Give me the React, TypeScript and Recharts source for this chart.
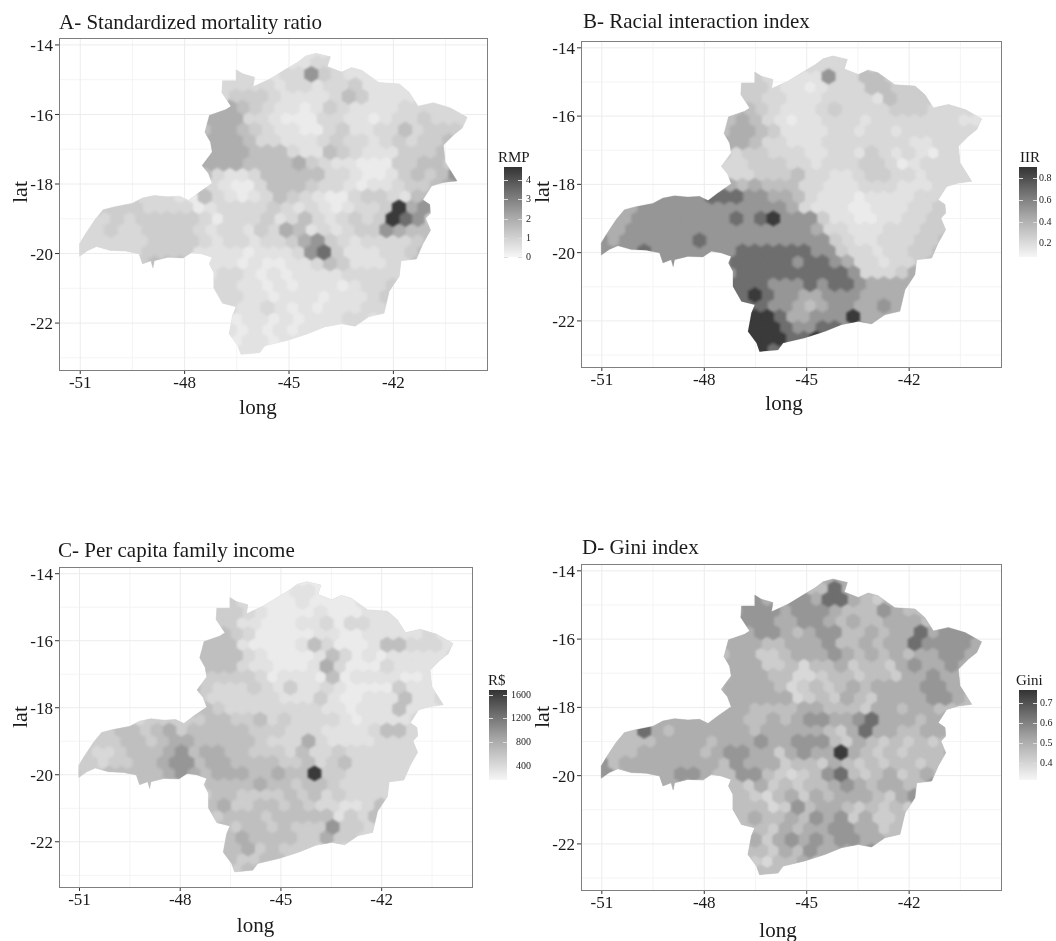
import { CartesianGrid, Scatter, ScatterChart, XAxis, YAxis } from "recharts";

const lonTicks = [-51, -48, -45, -42];
const latTicks = [-22, -20, -18, -16, -14];
const lonMinor = [-49.5, -46.5, -43.5, -40.5];
const latMinor = [-23, -21, -19, -17, -15];
const lonDomain = [-51.61, -39.31];
const latDomain = [-23.35, -13.8];

// state border
const outline = [
  [-51.02, -20.08], [-51.02, -19.72], [-50.87, -19.47], [-50.58, -19.03], [-50.34, -18.74], [-50.04, -18.66],
  [-49.5, -18.55], [-49.21, -18.4], [-48.87, -18.33], [-48.48, -18.37], [-48.14, -18.35], [-47.89, -18.47],
  [-47.6, -18.25], [-47.21, -17.98], [-47.32, -17.69], [-47.5, -17.47], [-47.21, -17.08], [-47.26, -16.79],
  [-47.42, -16.51], [-47.29, -16.02], [-46.82, -15.86], [-46.67, -15.76], [-46.93, -15.37], [-46.91, -15.03],
  [-46.52, -15.03], [-46.52, -14.71], [-46.33, -14.83], [-45.99, -14.93], [-46.03, -15.2], [-45.55, -14.98],
  [-45.06, -14.68], [-44.74, -14.49], [-44.52, -14.32], [-44.23, -14.24], [-43.81, -14.34], [-43.9, -14.62],
  [-43.49, -14.78], [-43.2, -14.65], [-42.91, -14.73], [-42.42, -15.08], [-41.83, -15.12], [-41.54, -15.37],
  [-41.29, -15.76], [-40.85, -15.66], [-40.36, -15.81], [-39.88, -16.08], [-40.02, -16.39], [-40.27, -16.59],
  [-40.56, -16.88], [-40.51, -17.37], [-40.32, -17.67], [-40.17, -17.91], [-40.56, -17.96], [-40.9, -18.06],
  [-41.15, -18.45], [-40.95, -18.59], [-40.93, -18.84], [-41.07, -18.99], [-40.93, -19.33], [-41.15, -19.72],
  [-41.34, -20.16], [-41.78, -20.21], [-41.83, -20.65], [-42.12, -21.09], [-42.27, -21.72], [-42.71, -21.82],
  [-43.1, -22.09], [-43.49, -22.02], [-43.98, -22.11], [-44.47, -22.31], [-45.06, -22.5], [-45.69, -22.65],
  [-45.84, -22.85], [-46.38, -22.9], [-46.47, -22.65], [-46.72, -22.31], [-46.62, -21.77], [-46.52, -21.53],
  [-46.91, -21.43], [-47.16, -20.99], [-47.16, -20.55], [-47.29, -20.3], [-47.21, -20.11], [-47.5, -20.01],
  [-47.79, -19.96], [-48.04, -20.13], [-48.48, -20.11], [-48.87, -20.21], [-48.91, -20.42], [-48.97, -20.21],
  [-49.21, -20.3], [-49.31, -20.01], [-49.7, -19.93], [-50.14, -19.91], [-50.53, -19.8], [-50.78, -19.91],
];

// shade cells: rows of latitude, columns of longitude (odd rows sit half a column east)
const cellLons = [
  -51.2, -50.84, -50.48, -50.12, -49.76, -49.4, -49.04, -48.68, -48.32, -47.96, -47.6, -47.24, -46.88, -46.52, -46.16, -45.8, -45.44,
  -45.08, -44.72, -44.36, -44.0, -43.64, -43.28, -42.92, -42.56, -42.2, -41.84, -41.48, -41.12, -40.76, -40.4, -40.04, -39.68,
];
const cellLats = [
  -14.2, -14.52, -14.84, -15.16, -15.48, -15.8, -16.12, -16.44, -16.76, -17.08, -17.4, -17.72, -18.04, -18.36, -18.68,
  -19.0, -19.32, -19.64, -19.96, -20.28, -20.6, -20.92, -21.24, -21.56, -21.88, -22.2, -22.52, -22.84, -23.16,
];
const rowStarts = [17, 16, 12, 11, 11, 10, 10, 10, 10, 10, 9, 9, 10, 5, 1, 1, 0, 0, 0, 3, 10, 10, 10, 11, 11, 11, 11, 11, 11];

const shadesA = [
  "22222", "2223322", "33332337432222", "3333323323342222", "334443222235422222",
  "5665432212432222333333", "56663321113322123343333", "56654322113422335344433", "66665332223433234344553",
  "66665553225432224445533", "56666555564322111445544", "55322355555332112454573", "4321135554332122344565",
  "3332153212354321134432553", "3444433331233334323212334967", "3343444443133342353234349874",
  "333433444432332436523234476554", "333333444432332334674323333455", "333333444422221222378422233455",
  "33455552221211223542223355", "223321212222333333", "233221212221233433", "23332212221222343",
  "2322321212223333", "321221212223322", "22121212222322", "221221222", "2222122", "2222",
];
const shadesB = [
  "33333", "3333333", "44322227335544", "4443221233355444", "444332223333254444",
  "5554322234333344433333", "55653212233323333333223", "56654222233233233333333", "5665332223333333223333",
  "4344333223324323213323", "33334443323334431233333", "33334445332234433233333", "66565553322233322233333",
  "7777888776653222122223334", "66677777777777763222112223344", "667777777787897774221122334444",
  "666777777777777777633222333444", "767777778777777777743223334455", "777787777777888888774332334455",
  "77777777888887887633233455", "778888888887333466", "788877787887666666", "88898776677766666",
  "8887765677667666", "899986677796666", "89998778877666", "899998898", "8998888", "8888",
];
const shadesC = [
  "11111", "1122111", "44331112111122", "4443211112111222", "444221112231332222",
  "5554311111221122222322", "45552111125311125533322", "55553211112531212222232", "5555322111263111322222",
  "4444431222151222211222", "45433343242232111142222", "44333333222421122252233", "5543333333322122252222",
  "3444445544534333321222233", "44455456455555444333222235533", "44455456655555433363222233333",
  "443345556756655444353343333333", "443445567756655554453453333333", "544555556765666556559443333333",
  "55555544555565545543333333", "445544445453433333", "456445545433223543", "44455545555524353",
  "4545545444744334", "455655554464433", "45564544433333", "455445544", "4445544", "4444",
];
const shadesD = [
  "55665", "5558655", "77667768865455", "6777677765557655", "677766776565566655",
  "5667765677556566867776", "56665566675565668777766", "56644566676565656677666", "5666445355645546766766",
  "5666553345545546676666", "55666653454565666677666", "5666666345465466667765", "5665555665554665665555",
  "6666666556567766786665666", "55586566666656666654686655665", "55556666566676677754654545456",
  "655566666567766467669654545556", "756666666657666455465454554555", "775666677655775434578545645656",
  "56666555546454556765665576", "555435646566654676", "555534756654545465", "55565565767464455",
  "5554656677664556", "566467676776655", "55546576665755", "554355655", "5455455", "4444",
];

const greys = ["#f3f3f3", "#ebebeb", "#e2e2e2", "#d8d8d8", "#cdcdcd", "#bfbfbf", "#aeaeae", "#969696", "#6e6e6e", "#3a3a3a"];
const font = "'Liberation Serif', serif";

function cellsByShade(rows: string[]) {
  const groups: { lon: number; lat: number }[][] = greys.map(() => []);
  rows.forEach((row, r) => {
    row.split("").forEach((ch, i) => {
      const lon = cellLons[rowStarts[r] + i] + (r % 2 ? 0.18 : 0);
      const lat = cellLats[r];
      groups[Number(ch)].push(
        { lon, lat: lat + 0.21 }, { lon: lon + 0.18, lat: lat + 0.105 }, { lon: lon + 0.18, lat: lat - 0.105 },
        { lon, lat: lat - 0.21 }, { lon: lon - 0.18, lat: lat - 0.105 }, { lon: lon - 0.18, lat: lat + 0.105 },
      );
    });
  });
  return groups;
}

function toPath(points: { x: number; y: number }[], size: number) {
  let d = "";
  for (let i = 0; i < points.length; i += size) {
    d += "M" + points.slice(i, i + size).map((p) => `${p.x},${p.y}`).join("L") + "Z";
  }
  return d;
}

const noDot = () => <g />;

interface ColorKey {
  title: string;
  titleLeft: number;
  titleTop: number;
  left: number;
  top: number;
  labels: string[];
  labelTops: number[];
  labelLeft: number;
  labelAlign?: "left" | "right";
}

interface PanelProps {
  id: string;
  title: string;
  titleLeft: number;
  titleTop: number;
  plot: { x: number; y: number; w: number; h: number };
  shades: string[];
  base: string;
  longDx: number;
  longDy: number;
  latDy: number;
  colorKey: ColorKey;
}

function Panel({ id, title, titleLeft, titleTop, plot, shades, base, longDx, longDy, latDy, colorKey }: PanelProps) {
  const groups = cellsByShade(shades);
  const clipId = `state-${id}`;
  const ck = colorKey;
  return (
    <>
      <div style={{ position: "absolute", left: titleLeft, top: titleTop, fontFamily: font, fontSize: 21, color: "#1a1a1a", whiteSpace: "nowrap", lineHeight: "20px" }}>
        {title}
      </div>
      <div style={{ position: "absolute", left: plot.x - 60, top: plot.y - 10 }}>
        <ScatterChart width={plot.w + 70} height={plot.h + 70} margin={{ top: 10, right: 10, bottom: 0, left: 0 }}>
          <CartesianGrid stroke="#f4f4f4" strokeWidth={1} horizontalValues={latMinor} verticalValues={lonMinor} />
          <CartesianGrid stroke="#ececec" strokeWidth={1} horizontalValues={latTicks} verticalValues={lonTicks} />
          <XAxis
            type="number"
            dataKey="lon"
            domain={lonDomain}
            ticks={lonTicks}
            allowDataOverflow
            height={60}
            axisLine={false}
            tickSize={4}
            tickLine={{ stroke: "#333" }}
            tick={{ fontFamily: font, fontSize: 17, fill: "#1a1a1a" }}
            label={{ value: "long", position: "insideBottom", dx: longDx, dy: longDy, fontFamily: font, fontSize: 21, fill: "#1a1a1a" }}
          />
          <YAxis
            type="number"
            dataKey="lat"
            domain={latDomain}
            ticks={latTicks}
            allowDataOverflow
            width={60}
            axisLine={false}
            tickSize={4}
            tickLine={{ stroke: "#333" }}
            tick={{ fontFamily: font, fontSize: 17, fill: "#1a1a1a" }}
            label={{ value: "lat", angle: -90, position: "insideLeft", dx: 15, dy: latDy, fontFamily: font, fontSize: 22, fill: "#1a1a1a" }}
          />
          <Scatter
            data={outline.map(([lon, lat]) => ({ lon, lat }))}
            isAnimationActive={false}
            shape={noDot}
            line={(p: any) => {
              const d = toPath(p.points, p.points.length);
              return (
                <g>
                  <clipPath id={clipId}>
                    <path d={d} />
                  </clipPath>
                  <path d={d} fill={base} stroke={base} strokeWidth={0.6} />
                </g>
              );
            }}
          />
          {groups.map((cells, i) =>
            cells.length ? (
              <Scatter
                key={i}
                data={cells}
                isAnimationActive={false}
                shape={noDot}
                line={(p: any) => (
                  <path d={toPath(p.points, 6)} fill={greys[i]} stroke={greys[i]} strokeWidth={1.6} clipPath={`url(#${clipId})`} style={{ filter: "blur(1px)" }} />
                )}
              />
            ) : null,
          )}
        </ScatterChart>
      </div>
      <div style={{ position: "absolute", left: plot.x, top: plot.y, width: plot.w - 1.4, height: plot.h - 1.4, border: "1.4px solid #7f7f7f", pointerEvents: "none" }} />
      <div style={{ position: "absolute", left: ck.titleLeft, top: ck.titleTop, fontFamily: font, fontSize: 15, color: "#1a1a1a", lineHeight: "16px" }}>{ck.title}</div>
      <div style={{ position: "absolute", left: ck.left, top: ck.top, width: 18, height: 90, background: "linear-gradient(#333333, #6a6a6a 25%, #a8a8a8 55%, #f6f6f6)" }}>
        {ck.labelTops.map((t) => (
          <div key={t} style={{ position: "absolute", left: 0, right: 0, top: t - ck.top, height: 1, background: "linear-gradient(90deg, #ddd 20%, transparent 20%, transparent 80%, #ddd 80%)" }} />
        ))}
      </div>
      {ck.labels.map((l, i) => (
        <div
          key={l}
          style={{
            position: "absolute",
            top: ck.labelTops[i] - 6,
            left: ck.labelLeft,
            width: 24,
            textAlign: ck.labelAlign ?? "left",
            fontFamily: font,
            fontSize: 10,
            lineHeight: "12px",
            color: "#1a1a1a",
          }}
        >
          {l}
        </div>
      ))}
    </>
  );
}

export default function App() {
  return (
    <div style={{ position: "absolute", left: 0, top: 0, width: 1056, height: 941, background: "#fff", overflow: "hidden", filter: "blur(0.4px)" }}>
      <Panel
        id="a"
        title="A- Standardized mortality ratio"
        titleLeft={59}
        titleTop={12}
        plot={{ x: 59, y: 38, w: 428, h: 332 }}
        shades={shadesA}
        base={greys[2]}
        longDx={-15}
        longDy={-11}
        latDy={-1}
        colorKey={{ title: "RMP", titleLeft: 498, titleTop: 149, left: 504, top: 167, labels: ["4", "3", "2", "1", "0"], labelTops: [180, 199, 219, 238, 257], labelLeft: 526 }}
      />
      <Panel
        id="b"
        title="B- Racial interaction index"
        titleLeft={583}
        titleTop={11}
        plot={{ x: 581, y: 41, w: 420, h: 326 }}
        shades={shadesB}
        base={greys[3]}
        longDx={-7}
        longDy={-12}
        latDy={-1}
        colorKey={{ title: "IIR", titleLeft: 1020, titleTop: 149, left: 1019, top: 167, labels: ["0.8", "0.6", "0.4", "0.2"], labelTops: [178, 200, 222, 243], labelLeft: 1039 }}
      />
      <Panel
        id="c"
        title="C- Per capita family income"
        titleLeft={58}
        titleTop={540}
        plot={{ x: 59, y: 567, w: 413, h: 320 }}
        shades={shadesC}
        base={greys[3]}
        longDx={-10}
        longDy={-10}
        latDy={1}
        colorKey={{ title: "R$", titleLeft: 488, titleTop: 672, left: 489, top: 690, labels: ["1600", "1200", "800", "400"], labelTops: [695, 718, 742, 766], labelLeft: 507, labelAlign: "right" }}
      />
      <Panel
        id="d"
        title="D- Gini index"
        titleLeft={582}
        titleTop={537}
        plot={{ x: 581, y: 564, w: 420, h: 326 }}
        shades={shadesD}
        base={greys[5]}
        longDx={-13}
        longDy={-8}
        latDy={1}
        colorKey={{ title: "Gini", titleLeft: 1016, titleTop: 672, left: 1019, top: 690, labels: ["0.7", "0.6", "0.5", "0.4"], labelTops: [703, 723, 743, 763], labelLeft: 1040 }}
      />
    </div>
  );
}
